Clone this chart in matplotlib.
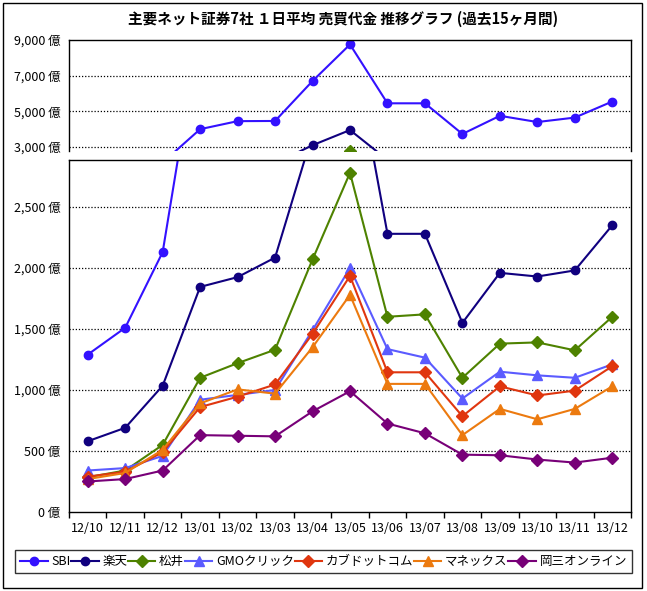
import matplotlib
matplotlib.use("Agg")
import matplotlib.pyplot as plt
import matplotlib.patches as mpatches
from matplotlib.ticker import FixedLocator, FuncFormatter, NullFormatter

plt.rcParams["font.family"] = ["Noto Sans CJK JP", "DejaVu Sans"]

# Data (億円)
months = ["12/10", "12/11", "12/12", "13/01", "13/02", "13/03", "13/04", "13/05",
          "13/06", "13/07", "13/08", "13/09", "13/10", "13/11", "13/12"]

sbi     = [1290, 1510, 2130, 4000, 4450, 4460, 6700, 8750, 5450, 5450, 3730, 4750, 4400, 4650, 5550]
rakuten = [580, 690, 1035, 1845, 1925, 2085, 3100, 3950, 2280, 2280, 1550, 1960, 1930, 1980, 2350]
matsui  = [285, 340, 550, 1100, 1220, 1330, 2070, 2780, 1600, 1620, 1100, 1380, 1390, 1325, 1600]
gmo     = [340, 360, 460, 920, 960, 1000, 1490, 2000, 1335, 1265, 930, 1150, 1120, 1100, 1210]
kabucom = [290, 330, 490, 860, 945, 1045, 1460, 1935, 1145, 1145, 785, 1030, 955, 995, 1195]
monex   = [270, 320, 510, 890, 1005, 970, 1350, 1780, 1050, 1050, 630, 845, 760, 845, 1030]
okasan  = [250, 270, 340, 630, 625, 620, 825, 990, 725, 645, 470, 465, 430, 405, 445]

series_names = ["SBI", "楽天", "松井", "GMOクリック", "カブドットコム", "マネックス", "岡三オンライン"]
series_vals = [sbi, rakuten, matsui, gmo, kabucom, monex, okasan]
series_colors = ["#3311ff", "#10007f", "#4e8200", "#5b5bff", "#e0360f", "#ec7a0f", "#780078"]
series_markers = ["o", "o", "D", "^", "D", "^", "D"]
marker_sizes = [6, 6, 6, 7, 6, 7, 6]

W, H = 647, 591
fig = plt.figure(figsize=(W / 100, H / 100), dpi=100)

def fx(px):
    return px / W

def fy(py):
    return 1 - py / H

ax_top = fig.add_axes([fx(69), fy(151), fx(631) - fx(69), fy(40) - fy(151)])
ax_bot = fig.add_axes([fx(69), fy(512), fx(631) - fx(69), fy(160) - fy(512)])

x = list(range(len(months)))
for ax in (ax_top, ax_bot):
    for name, vals, c, m, ms in zip(series_names, series_vals, series_colors,
                                    series_markers, marker_sizes):
        ax.plot(x, vals, color=c, marker=m, markersize=ms, linewidth=1.5,
                markeredgecolor=c, label=name)
    ax.set_xlim(-0.5, len(months) - 0.5)
    for s in ax.spines.values():
        s.set_linewidth(1.0)
        s.set_color("black")

yfmt = FuncFormatter(lambda v, p: f"{int(v):,} 億")

# upper panel (broken axis)
ax_top.set_ylim(2776, 9000)
ax_top.yaxis.set_major_locator(FixedLocator([3000, 5000, 7000, 9000]))
ax_top.yaxis.set_major_formatter(yfmt)
ax_top.spines["bottom"].set_visible(False)
ax_top.set_xticks([])
ax_top.tick_params(axis="y", length=0, labelsize=9, pad=6)
for v in [3000, 5000, 7000]:
    ax_top.axhline(v, color="black", linestyle=(0, (1, 1.5)), linewidth=0.9, zorder=0)

# lower panel
ax_bot.set_ylim(0, 2885)
ax_bot.yaxis.set_major_locator(FixedLocator([0, 500, 1000, 1500, 2000, 2500]))
ax_bot.yaxis.set_major_formatter(yfmt)
ax_bot.tick_params(axis="y", length=0, labelsize=9, pad=6)
for v in [500, 1000, 1500, 2000, 2500]:
    ax_bot.axhline(v, color="black", linestyle=(0, (1, 1.5)), linewidth=0.9, zorder=0)

ax_bot.set_xticks([i - 0.5 for i in range(len(months) + 1)])
ax_bot.xaxis.set_major_formatter(NullFormatter())
ax_bot.set_xticks(x, minor=True)
ax_bot.set_xticklabels(months, minor=True)
ax_bot.tick_params(axis="x", which="major", direction="out", length=4, width=1)
ax_bot.tick_params(axis="x", which="minor", length=0, labelsize=9, pad=7)

fig.text(fx(343), fy(19), "主要ネット証券7社 １日平均 売買代金 推移グラフ (過去15ヶ月間)",
         ha="center", va="center", fontsize=10.5, fontweight="bold")

handles, labels = ax_bot.get_legend_handles_labels()
leg = fig.legend(handles, labels, ncol=7, mode="expand",
                 bbox_to_anchor=(fx(15), fy(577), fx(632) - fx(15), fy(546) - fy(577)),
                 loc="center", fontsize=9, frameon=True, fancybox=False,
                 handlelength=2.2, handletextpad=0.3, columnspacing=0.8,
                 borderpad=0.4, borderaxespad=0)
leg.get_frame().set_edgecolor("black")
leg.get_frame().set_linewidth(1.0)

frame = mpatches.Rectangle((fx(3), fy(588)), fx(642) - fx(3), fy(3) - fy(588),
                           transform=fig.transFigure, fill=False,
                           edgecolor="black", linewidth=1.0)
fig.patches.append(frame)

fig.savefig("out.png", dpi=100)
